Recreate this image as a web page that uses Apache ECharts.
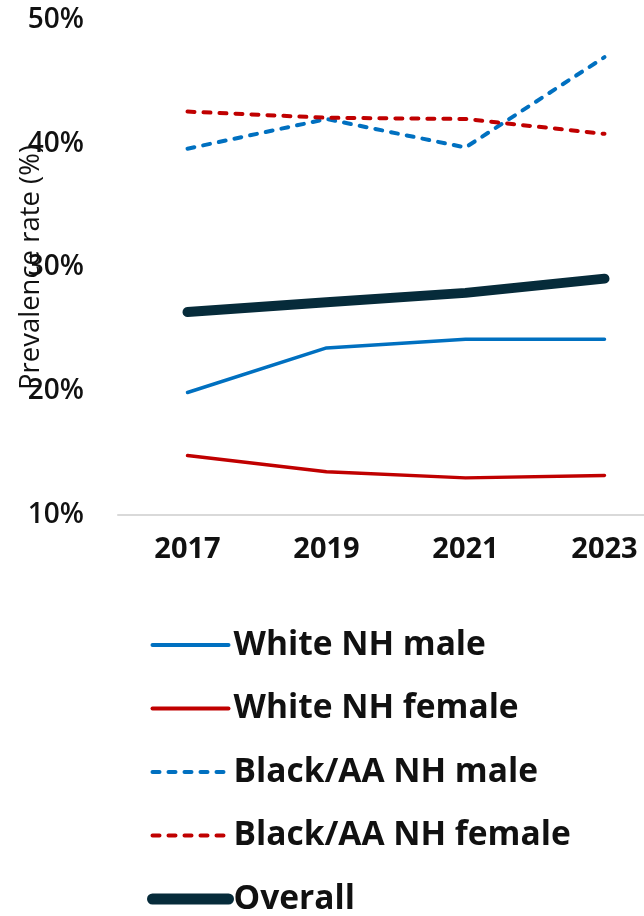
<!DOCTYPE html>
<html>
<head>
<meta charset="utf-8">
<script src="https://cdn.jsdelivr.net/npm/echarts@6/dist/echarts.min.js"></script>
<style>
  html, body { margin: 0; padding: 0; background: #fff; overflow: hidden; }
  #wrap { width: 644px; height: 916px; overflow: hidden; }
  /* canvas is a bit wider than the page so the plot area runs past the right edge */
  #chart { width: 680px; height: 916px; }
</style>
</head>
<body>
<div id="wrap"><div id="chart"></div></div>
<script>
// Survey years on the category axis
const years = ['2017', '2019', '2021', '2023'];

// Prevalence rate (%) per group
const whiteMale = [19.9, 23.5, 24.2, 24.2];
const whiteFemale = [14.8, 13.5, 13.0, 13.2];
const blackMale = [39.6, 42.0, 39.7, 47.0];
const blackFemale = [42.6, 42.1, 42.0, 40.8];
const overall = [26.4, 27.2, 27.95, 29.1];

// Y-axis tick values
const yTicks = [10, 20, 30, 40, 50];

const BLUE = '#0070C0';
const RED = '#C00000';
const DARK = '#062B3A';
const FONT = '"Open Sans", sans-serif';

function lineSeries(name, data, color, width, dashed) {
  return {
    name: name,
    type: 'line',
    data: data,
    symbol: 'none',
    smooth: false,
    lineStyle: {
      color: color,
      width: width,
      type: dashed ? [7, 9] : 'solid',
      cap: 'round',
      join: 'round'
    },
    itemStyle: { color: color }
  };
}

const chart = echarts.init(document.getElementById('chart'), null, { renderer: 'canvas' });

chart.setOption({
  animation: false,
  backgroundColor: '#ffffff',
  grid: { left: 118, width: 556, top: 20, bottom: 401, containLabel: false },
  xAxis: {
    type: 'category',
    data: years,
    boundaryGap: true,
    axisLine: { show: true, lineStyle: { color: '#D9D9D9', width: 2 } },
    axisTick: { show: false },
    axisLabel: {
      color: '#111',
      fontFamily: FONT,
      fontWeight: 'bold',
      fontSize: 29,
      margin: 20
    },
    splitLine: { show: false }
  },
  yAxis: {
    type: 'value',
    min: yTicks[0],
    max: yTicks[yTicks.length - 1],
    interval: 10,
    name: 'Prevalence rate (%)',
    nameLocation: 'middle',
    nameGap: 73,
    nameRotate: 90,
    nameMoveOverlap: false,
    nameTextStyle: { color: '#111', fontFamily: FONT, fontSize: 27.5 },
    axisLine: { show: false },
    axisTick: { show: false },
    splitLine: { show: false },
    axisLabel: {
      color: '#111',
      fontFamily: FONT,
      fontWeight: 600,
      fontSize: 28,
      margin: 34,
      formatter: v => v + '%'
    }
  },
  legend: {
    orient: 'vertical',
    left: 147,
    top: 628,
    padding: 0,
    itemWidth: 76,
    itemHeight: 14,
    itemGap: 29.5,
    itemStyle: { opacity: 0 },
    textStyle: {
      color: '#111',
      fontFamily: FONT,
      fontWeight: 'bold',
      fontSize: 33.5,
      lineHeight: 34,
      padding: [0, 0, 0, 0]
    },
    data: [
      { name: 'White NH male', lineStyle: { width: 4 } },
      { name: 'White NH female', lineStyle: { width: 4 } },
      { name: 'Black/AA NH male', lineStyle: { width: 4 } },
      { name: 'Black/AA NH female', lineStyle: { width: 4 } },
      { name: 'Overall', lineStyle: { width: 11 } }
    ]
  },
  series: [
    lineSeries('White NH male', whiteMale, BLUE, 3.5, false),
    lineSeries('White NH female', whiteFemale, RED, 3.5, false),
    lineSeries('Black/AA NH male', blackMale, BLUE, 4, true),
    lineSeries('Black/AA NH female', blackFemale, RED, 4, true),
    lineSeries('Overall', overall, DARK, 10, false)
  ]
});
</script>
</body>
</html>
